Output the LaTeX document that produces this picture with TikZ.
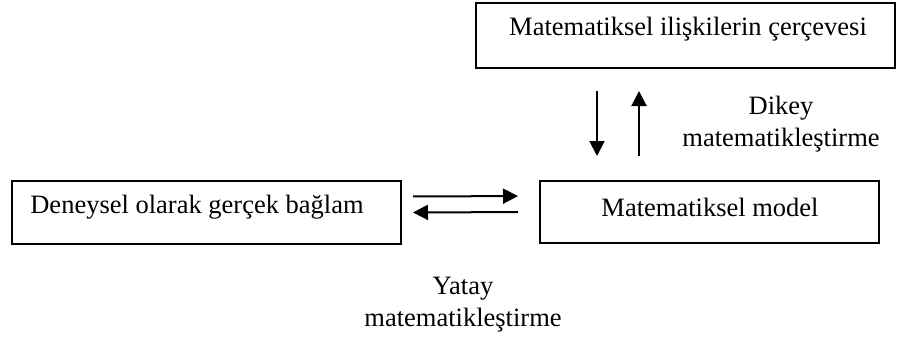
\documentclass[tikz,border=0pt]{standalone}
\usepackage{fontspec}
\setmainfont{Liberation Serif}
\usetikzlibrary{arrows.meta}
\begin{document}
\begin{tikzpicture}[x=1pt,y=-1pt,
  box/.style={draw, line width=2pt, inner sep=0pt},
  lbl/.style={font=\fontsize{26.5}{32}\selectfont, inner sep=0pt, align=center},
  arr/.style={line width=2pt, arrows={-Triangle[length=15pt,width=15pt]}}]
\useasboundingbox (0,0) rectangle (897,340);
\node[box, minimum width=419pt, minimum height=65pt] (top) at (685.5,35.5) {};
\node[box, minimum width=389pt, minimum height=63pt] (ctx) at (206.5,212.5) {};
\node[box, minimum width=339pt, minimum height=62pt] (model) at (709.5,212) {};
\node[lbl] (ttop) at (688,29) {Matematiksel ilişkilerin çerçevesi};
\node[lbl] (tctx) at (197,207) {Deneysel olarak gerçek bağlam};
\node[lbl] (tmodel) at (710,207) {Matematiksel model};
\node[lbl] (tdikey) at (781,124) {Dikey\\matematikleştirme};
\node[lbl] (tyatay) at (463,305) {Yatay\\matematikleştirme};
\coordinate (dn) at (597,0);
\coordinate (up) at (639,0);
\draw[arr, shorten <=22pt, shorten >=24pt] (top.south -| dn) -- (model.north -| dn);
\draw[arr, shorten <=24pt, shorten >=22pt] (model.north -| up) -- (top.south -| up);
\draw[arr, shorten <=11pt, shorten >=21pt] ([yshift=16pt]ctx.east) -- ([yshift=16pt]model.west);
\draw[arr, shorten <=21pt, shorten >=11pt] (model.west) -- (ctx.east);
\end{tikzpicture}
\end{document}
